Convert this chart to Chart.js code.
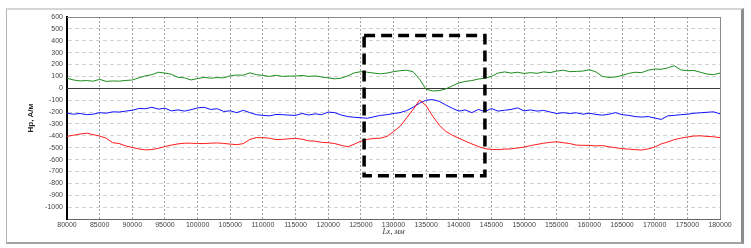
<!DOCTYPE html>
<html lang="ru">
<head>
<meta charset="UTF-8">
<title>Hp vs Lx</title>
<script src="https://cdn.jsdelivr.net/npm/chart.js"></script>
<style>
    html, body { margin: 0; padding: 0; background: #fff; }
    #wrap { position: relative; width: 751px; height: 248px; }
    #frame { position: absolute; left: 6px; top: 8px; width: 734px; height: 232px;
             border: 1px solid #b4b4b4; border-top: 2px solid #d6d6d6;
             border-right: 3px solid #8c8c8c; border-bottom: 2px solid #a4a4a4; }
    canvas { position: absolute; left: 0; top: 0; }
</style>
</head>
<body>
<div id="wrap">
    <div id="frame"></div>
    <canvas id="chart" width="751" height="248"></canvas>
</div>
<script>
// sampling grid along Lx, mm
const startX = 80000;
const stepX = 1000;

// y tick range
const yMin = -1100;
const yMax = 600;

// green trace
const green = [
    85, 70, 62, 65, 60, 75, 58, 62, 60, 66, 70, 88, 105, 115, 135, 128, 118, 92,
    88, 70, 82, 92, 85, 90, 88, 105, 112, 110, 130, 115, 108, 100, 110, 100, 103,
    103, 108, 100, 104, 95, 88, 80, 85, 105, 130, 140, 135, 128, 122, 128, 140,
    148, 152, 140, 75, -8, -22, -20, -5, 20, 45, 58, 65, 78, 85, 100, 128, 138,
    128, 135, 125, 132, 126, 138, 132, 145, 152, 140, 142, 145, 156, 138, 100, 92, 95,
    108, 125, 135, 132, 152, 162, 160, 172, 190, 155, 148, 150, 135, 120, 115, 128
];

// blue trace
const blue = [
    -210, -218, -212, -222, -218, -205, -210, -198, -200, -192, -185, -170, -172, -160, -175, -168, -190, -182,
    -192, -180, -165, -160, -178, -172, -195, -190, -205, -185, -205, -222, -228, -232, -220, -222, -226,
    -228, -212, -225, -215, -222, -200, -205, -225, -238, -244, -248, -252, -240, -228, -222, -212,
    -205, -188, -160, -125, -100, -95, -110, -140, -168, -192, -182, -205, -178, -196, -170, -192, -185,
    -178, -165, -190, -182, -192, -186, -200, -212, -205, -212, -206, -218, -210, -220, -226, -218, -205,
    -222, -228, -238, -242, -238, -250, -262, -232, -228, -222, -218, -210, -206, -202, -198, -215
];

// red trace
const red = [
    -405, -395, -385, -378, -390, -402, -420, -458, -465, -485, -498, -510, -518, -515, -505, -490, -478, -468,
    -462, -462, -465, -465, -462, -460, -464, -470, -474, -466, -430, -415, -416, -420, -432, -430, -425,
    -422, -428, -442, -445, -455, -458, -465, -480, -492, -470, -445, -430, -422, -420, -405, -365,
    -320, -250, -178, -100, -145, -235, -310, -362, -395, -420, -445, -468, -490, -508, -514, -516, -512,
    -510, -502, -495, -482, -472, -462, -455, -450, -458, -465, -478, -480, -480, -485, -482, -492, -500,
    -508, -512, -516, -520, -510, -495, -468, -452, -432, -420, -410, -402, -400, -405, -408, -415
];

// dashed selection box corners
const boxX = [125500, 144000];
const boxY = [445, -735];

const distance = green.map((_, i) => startX + i * stepX);
const toPoints = arr => arr.map((v, i) => ({ x: distance[i], y: v }));
const boxPoints = [
    { x: boxX[0], y: boxY[0] }, { x: boxX[1], y: boxY[0] },
    { x: boxX[1], y: boxY[1] }, { x: boxX[0], y: boxY[1] },
    { x: boxX[0], y: boxY[0] }
];

// zero line under the data, top/right frame on top
const framePlugin = {
    id: 'frame',
    beforeDatasetsDraw(chart) {
        const { ctx, chartArea: a, scales: { y } } = chart;
        const y0 = Math.round(y.getPixelForValue(0)) + 0.5;
        ctx.save();
        ctx.strokeStyle = '#3a3a3a';
        ctx.lineWidth = 1;
        ctx.beginPath();
        ctx.moveTo(a.left, y0);
        ctx.lineTo(a.right, y0);
        ctx.stroke();
        ctx.restore();
    },
    afterDraw(chart) {
        const { ctx, chartArea: a } = chart;
        ctx.save();
        ctx.strokeStyle = '#8a8a8a';
        ctx.lineWidth = 1;
        ctx.beginPath();
        ctx.moveTo(a.left, Math.round(a.top) + 0.5);
        ctx.lineTo(Math.round(a.right) + 0.5, Math.round(a.top) + 0.5);
        ctx.lineTo(Math.round(a.right) + 0.5, a.bottom);
        ctx.stroke();
        ctx.restore();
    }
};

const tickFont = { family: 'Liberation Sans', size: 7 };

new Chart(document.getElementById('chart').getContext('2d'), {
    type: 'line',
    data: {
        datasets: [
            { data: boxPoints, borderColor: '#000', borderWidth: 3.5, borderDash: [11, 6],
              pointRadius: 0, fill: false, tension: 0 },
            { data: toPoints(red), borderColor: '#ff1a1a', borderWidth: 1, pointRadius: 0, tension: 0 },
            { data: toPoints(blue), borderColor: '#1010ff', borderWidth: 1, pointRadius: 0, tension: 0 },
            { data: toPoints(green), borderColor: '#1c8c1c', borderWidth: 1, pointRadius: 0, tension: 0 }
        ]
    },
    options: {
        responsive: false,
        animation: false,
        layout: { padding: { left: 26, right: 31, top: 17, bottom: 11 } },
        plugins: { legend: { display: false }, tooltip: { enabled: false } },
        scales: {
            x: {
                type: 'linear',
                min: 80000,
                max: 180000,
                afterFit: s => { s.height = 18; },
                ticks: {
                    stepSize: 5000,
                    autoSkip: false,
                    maxRotation: 0,
                    padding: 2,
                    font: tickFont,
                    color: '#444',
                    callback: v => String(v)
                },
                grid: { color: '#a0a0a0', lineWidth: 1, drawTicks: false },
                border: { color: '#666', width: 1, dash: [2, 2] },
                title: {
                    display: true,
                    text: 'Lx, мм',
                    padding: 0,
                    color: '#333',
                    font: { family: 'Liberation Serif', size: 8, style: 'italic' }
                }
            },
            y: {
                min: yMin,
                max: yMax,
                afterFit: s => { s.width = 41; },
                ticks: {
                    stepSize: 100,
                    padding: 4,
                    font: tickFont,
                    color: '#444',
                    callback: v => (v === yMin ? '' : String(v))
                },
                grid: { color: '#d2d2d2', lineWidth: 1, drawTicks: false },
                border: { color: '#000', width: 2, dash: [4, 3] },
                title: {
                    display: true,
                    text: 'Нр, А/м',
                    padding: 0,
                    color: '#222',
                    font: { family: 'Liberation Sans', size: 8, weight: 'bold' }
                }
            }
        }
    },
    plugins: [framePlugin]
});
</script>
</body>
</html>
